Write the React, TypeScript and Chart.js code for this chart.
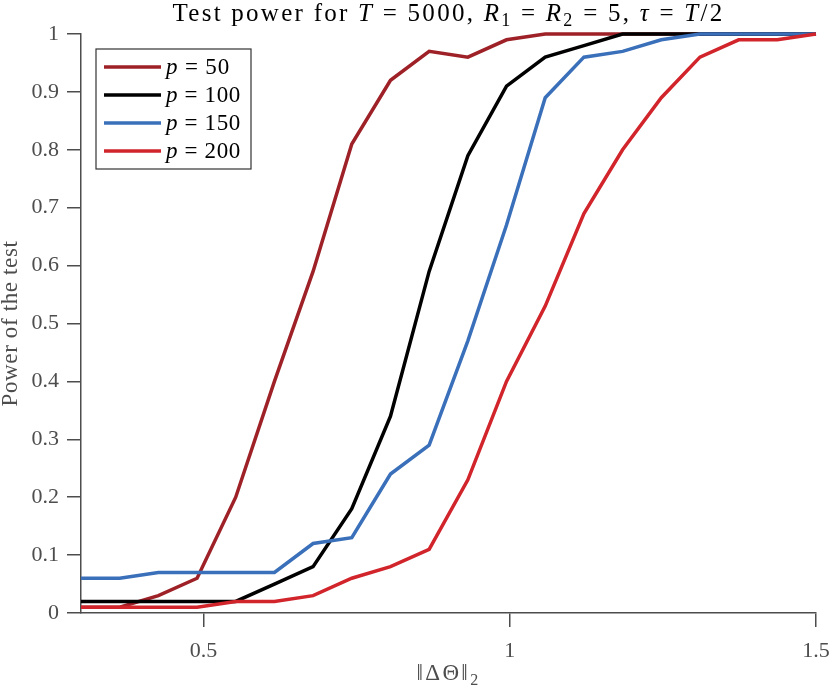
import React, { useEffect, useRef } from "react";
import { Chart, registerables } from "chart.js";

Chart.register(...registerables);

// ||ΔΘ||_2 sample points (20 values between 0.3 and 1.5)
const deltaNorm = [
  0.3, 0.3632, 0.4263, 0.4895, 0.5526, 0.6158, 0.6789, 0.7421, 0.8053, 0.8684,
  0.9316, 0.9947, 1.0579, 1.1211, 1.1842, 1.2474, 1.3105, 1.3737, 1.4368, 1.5,
];

const power50 = [0.01, 0.01, 0.03, 0.06, 0.2, 0.4, 0.59, 0.81, 0.92, 0.97, 0.96, 0.99, 1, 1, 1, 1, 1, 1, 1, 1];
const power100 = [0.02, 0.02, 0.02, 0.02, 0.02, 0.05, 0.08, 0.18, 0.34, 0.59, 0.79, 0.91, 0.96, 0.98, 1, 1, 1, 1, 1, 1];
const power150 = [0.06, 0.06, 0.07, 0.07, 0.07, 0.07, 0.12, 0.13, 0.24, 0.29, 0.47, 0.67, 0.89, 0.96, 0.97, 0.99, 1, 1, 1, 1];
const power200 = [0.01, 0.01, 0.01, 0.01, 0.02, 0.02, 0.03, 0.06, 0.08, 0.11, 0.23, 0.4, 0.53, 0.69, 0.8, 0.89, 0.96, 0.99, 0.99, 1];

const seriesNames = ["50", "100", "150", "200"];
const seriesColors = ["#9e2127", "#000000", "#3a6fba", "#d1242b"];

const xTicks = [0.5, 1, 1.5];
const yTicks = [0, 0.1, 0.2, 0.3, 0.4, 0.5, 0.6, 0.7, 0.8, 0.9, 1];

const AXIS = "#4d4d4d";
const FONT = "'Liberation Serif', 'DejaVu Serif', serif";

type Seg = { t: string; it?: boolean; sub?: boolean };

// draws mixed roman/italic/subscript text; the latex font is wider than
// Liberation Serif, so letter spacing is stretched to reach `width`
const drawSegs = (
  ctx: CanvasRenderingContext2D,
  segs: Seg[],
  x: number,
  y: number,
  size: number,
  align: "left" | "center",
  width?: number
) => {
  const c = ctx as any;
  const fontOf = (s: Seg) => `${s.it ? "italic " : ""}${s.sub ? Math.round(size * 0.7) : size}px ${FONT}`;
  c.letterSpacing = "0px";
  const natural = segs.map((s) => {
    ctx.font = fontOf(s);
    return ctx.measureText(s.t).width;
  });
  const chars = segs.reduce((n, s) => n + [...s.t].length, 0);
  const total0 = natural.reduce((a, b) => a + b, 0);
  const sp = width ? Math.max(0, (width - total0) / chars) : 0;
  const widths = segs.map((s, i) => natural[i] + sp * [...s.t].length);
  const total = widths.reduce((a, b) => a + b, 0);
  let cx = align === "center" ? x - total / 2 : x;
  ctx.textAlign = "left";
  ctx.textBaseline = "alphabetic";
  c.letterSpacing = `${sp}px`;
  segs.forEach((s, i) => {
    ctx.font = fontOf(s);
    ctx.fillText(s.t, cx, s.sub ? y + size * 0.2 : y);
    cx += widths[i];
  });
  c.letterSpacing = "0px";
};

// title, axis titles and the boxed legend inside the plot
const decorations = {
  id: "decorations",
  afterDraw(chart: Chart) {
    const { ctx, chartArea } = chart;
    const mid = (chartArea.left + chartArea.right) / 2;
    ctx.save();

    ctx.fillStyle = "#000";
    drawSegs(
      ctx,
      [
        { t: "Test power for " },
        { t: "T", it: true },
        { t: " = 5000, " },
        { t: "R", it: true },
        { t: "1", sub: true },
        { t: " = " },
        { t: "R", it: true },
        { t: "2", sub: true },
        { t: " = 5, " },
        { t: "τ", it: true },
        { t: " = " },
        { t: "T", it: true },
        { t: "/2" },
      ],
      mid,
      21,
      25,
      "center",
      552
    );

    ctx.fillStyle = AXIS;
    drawSegs(ctx, [{ t: "‖ΔΘ‖" }, { t: "2", sub: true }], mid, 680, 23, "center", 64);

    ctx.save();
    ctx.translate(17, (chartArea.top + chartArea.bottom) / 2);
    ctx.rotate(-Math.PI / 2);
    drawSegs(ctx, [{ t: "Power of the test" }], 0, 0, 23, "center", 166);
    ctx.restore();

    // legend
    const bx = chartArea.left + 15;
    const by = chartArea.top + 15;
    ctx.fillStyle = "#fff";
    ctx.fillRect(bx, by, 155, 120);
    ctx.strokeStyle = "#333";
    ctx.lineWidth = 1.2;
    ctx.strokeRect(bx, by, 155, 120);
    seriesNames.forEach((name, i) => {
      const ry = by + 18 + i * 28;
      ctx.strokeStyle = seriesColors[i];
      ctx.lineWidth = 3.5;
      ctx.beginPath();
      ctx.moveTo(bx + 8, ry);
      ctx.lineTo(bx + 65, ry);
      ctx.stroke();
      ctx.fillStyle = "#000";
      drawSegs(ctx, [{ t: "p", it: true }, { t: " = " + name }], bx + 70, ry + 7, 23, "left", name.length === 2 ? 64 : 75);
    });

    ctx.restore();
  },
};

const App: React.FC = () => {
  const canvasRef = useRef<HTMLCanvasElement>(null);

  useEffect(() => {
    if (!canvasRef.current) return;
    const allSeries = [power50, power100, power150, power200];

    const chart = new Chart(canvasRef.current, {
      type: "line",
      data: {
        datasets: allSeries.map((vals, i) => ({
          label: "p = " + seriesNames[i],
          data: deltaNorm.map((x, j) => ({ x, y: vals[j] })),
          borderColor: seriesColors[i],
          backgroundColor: seriesColors[i],
          borderWidth: 3.5,
          pointRadius: 0,
          tension: 0,
          clip: false as any,
          order: 3 - i,
        })),
      },
      options: {
        animation: false,
        responsive: true,
        maintainAspectRatio: false,
        layout: { padding: { top: 34, right: 14, left: 0, bottom: 0 } },
        plugins: { legend: { display: false }, title: { display: false }, tooltip: { enabled: false } },
        scales: {
          x: {
            type: "linear",
            min: 0.3,
            max: 1.5,
            afterBuildTicks: (scale: any) => {
              scale.ticks = xTicks.map((v) => ({ value: v }));
            },
            afterFit: (scale: any) => {
              scale.height = 77;
              scale.paddingRight = 0;
              scale.paddingLeft = 0;
            },
            grid: { drawOnChartArea: false, drawTicks: true, tickLength: 14, color: AXIS, lineWidth: 1.5 },
            border: { display: true, color: AXIS, width: 1.5 },
            ticks: {
              color: AXIS,
              font: { family: FONT, size: 22 },
              padding: 11,
              maxRotation: 0,
              callback: (v: any) => String(v),
            },
          },
          y: {
            min: 0,
            max: 1,
            afterBuildTicks: (scale: any) => {
              scale.ticks = yTicks.map((v) => ({ value: v }));
            },
            afterFit: (scale: any) => {
              scale.width = 81;
            },
            grid: { drawOnChartArea: false, drawTicks: true, tickLength: 14, color: AXIS, lineWidth: 1.5 },
            border: { display: true, color: AXIS, width: 1.5 },
            ticks: {
              color: AXIS,
              font: { family: FONT, size: 22 },
              padding: 8,
              callback: (v: any) => String(Math.round(Number(v) * 10) / 10),
            },
          },
        },
      },
      plugins: [decorations],
    });

    return () => chart.destroy();
  }, []);

  return (
    <div style={{ position: "absolute", left: 0, top: 0, width: 830, height: 690, background: "#fff" }}>
      <canvas ref={canvasRef} />
    </div>
  );
};

export default App;
